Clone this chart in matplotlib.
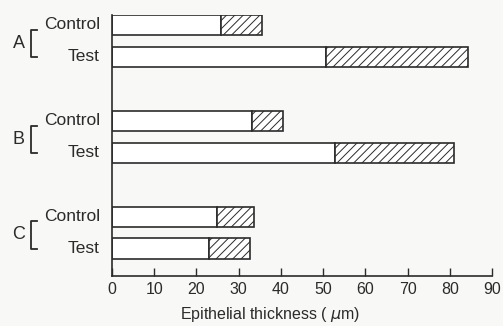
import matplotlib
matplotlib.use("Agg")
import matplotlib.pyplot as plt
import matplotlib.transforms as mtransforms

# data (epithelial thickness, um)
groups = ["A", "B", "C"]
rows = ["Control", "Test"]
plain_part = [25.8, 50.7, 33.2, 52.8, 24.9, 23.0]   # white part of each bar
total_len = [35.5, 84.4, 40.5, 81.0, 33.7, 32.7]    # end of hatched part
xticks = [0, 10, 20, 30, 40, 50, 60, 70, 80, 90]

# bar slots from top to bottom: A control, A test, B control, B test, C control, C test
ypos = [7, 6, 4, 3, 1, 0]

ink = "#2b2b2b"
bg = "#f8f8f6"
plt.rcParams["font.family"] = ["Liberation Sans", "DejaVu Sans"]
plt.rcParams["hatch.linewidth"] = 0.7
plt.rcParams["hatch.color"] = ink

fig = plt.figure(figsize=(5.03, 3.26), dpi=100, facecolor=bg)
ax = fig.add_axes([112/503, 50/326, 380/503, 261/326])
ax.set_facecolor(bg)

hatched = [t - p for t, p in zip(total_len, plain_part)]
ax.barh(ypos, plain_part, height=0.63, color="white", edgecolor=ink, linewidth=1.2)
ax.barh(ypos, hatched, left=plain_part, height=0.63, color="white",
        edgecolor=ink, linewidth=1.2, hatch="////")

ax.set_xlim(0, 90)
ax.set_ylim(-0.86, 7.31)
ax.set_xticks(xticks)
ax.tick_params(axis="x", direction="in", length=6, width=1, colors=ink,
               labelsize=11.5, pad=4)
ax.set_yticks([])
for s in ["top", "right"]:
    ax.spines[s].set_visible(False)
for s in ["left", "bottom"]:
    ax.spines[s].set_color(ink)
    ax.spines[s].set_linewidth(1.2)

fig.text(270/503, 12/326, r"Epithelial thickness ( $\mu$m)", ha="center",
         va="center", fontsize=11.5, color=ink)

# row labels, group letters and brackets on the left
tr = mtransforms.blended_transform_factory(fig.transFigure, ax.transData)
for i, g in enumerate(groups):
    y_c = ypos[2*i]
    y_t = ypos[2*i + 1]
    fig.text(100/503, y_c, rows[0], transform=tr, ha="right", va="center",
             fontsize=12.5, color=ink)
    fig.text(100/503, y_t, rows[1], transform=tr, ha="right", va="center",
             fontsize=12.5, color=ink)
    top = y_c - 0.15
    fig.add_artist(plt.Line2D([37/503, 31/503, 31/503, 37/503], [top, top, y_t, y_t],
                              transform=tr, color=ink, linewidth=1.3))
    fig.text(19/503, (top + y_t) / 2, g, transform=tr, ha="center", va="center",
             fontsize=13, color=ink)

fig.savefig("out.png", dpi=100, facecolor=bg)
